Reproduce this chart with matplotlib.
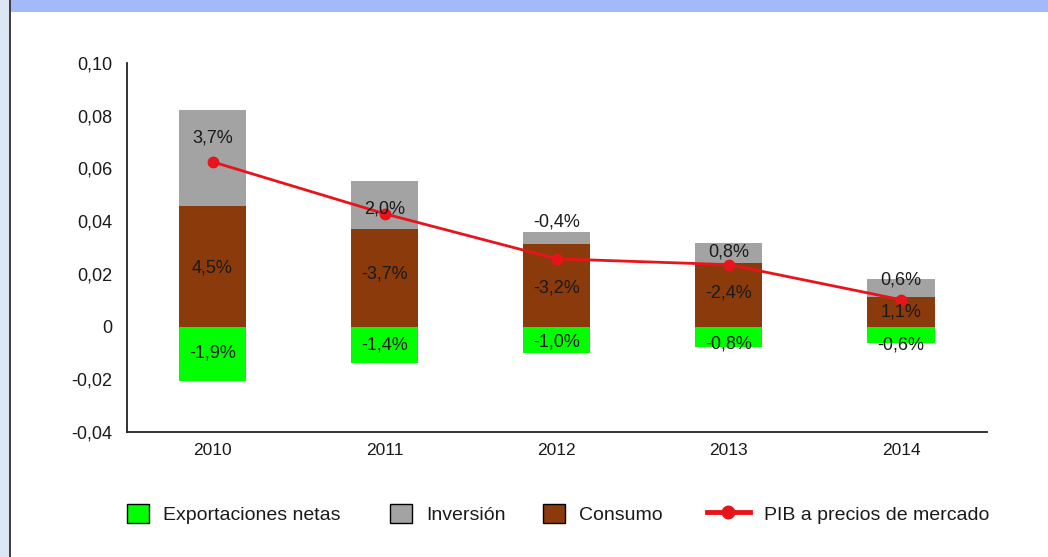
import matplotlib
matplotlib.use("Agg")
import matplotlib.pyplot as plt
from matplotlib.patches import Rectangle
from matplotlib.lines import Line2D

plt.rcParams['font.family'] = ['Liberation Sans', 'DejaVu Sans']

# ---- data ----
years = ['2010', '2011', '2012', '2013', '2014']
exportaciones = [-0.0205, -0.0139, -0.0100, -0.0076, -0.0063]
consumo = [0.0458, 0.0370, 0.0315, 0.0240, 0.0113]
inversion = [0.0363, 0.0182, 0.0042, 0.0076, 0.0066]
pib = [0.0625, 0.0428, 0.0257, 0.0235, 0.0102]

lab_exportaciones = ['-1,9%', '-1,4%', '-1,0%', '-0,8%', '-0,6%']
lab_consumo = ['4,5%', '-3,7%', '-3,2%', '-2,4%', '1,1%']
lab_inversion = ['3,7%', '2,0%', '-0,4%', '0,8%', '0,6%']

yticks = [-0.04, -0.02, 0, 0.02, 0.04, 0.06, 0.08, 0.10]
ytick_labels = ['-0,04', '-0,02', '0', '0,02', '0,04', '0,06', '0,08', '0,10']

# ---- style ----
c_green = '#00FF00'
c_gray = '#A3A3A3'
c_brown = '#8B3A0C'
c_red = '#E8141C'
txt = '#1a1a1a'

W, H = 1048, 557
fig = plt.figure(figsize=(W / 100, H / 100), dpi=100)
fig.patch.set_facecolor('white')

# frame decorations
fig.add_artist(Rectangle((0, 0), 9 / W, 1, transform=fig.transFigure,
                         facecolor='#DCE6F5', edgecolor='none', zorder=0))
fig.add_artist(Rectangle((9 / W, 0), 2 / W, 1, transform=fig.transFigure,
                         facecolor='#404040', edgecolor='none', zorder=0))
fig.add_artist(Rectangle((11 / W, 1 - 12 / H), 1, 12 / H, transform=fig.transFigure,
                         facecolor='#A3B9F9', edgecolor='none', zorder=0))

ax = fig.add_axes([126.5 / W, 1 - 432 / H, (987 - 126.5) / W, (432 - 63) / H])
x = list(range(len(years)))
bw = 0.39

b_exp = ax.bar(x, exportaciones, bw, color=c_green, label='Exportaciones netas', zorder=2)
b_con = ax.bar(x, consumo, bw, color=c_brown, label='Consumo', zorder=2)
b_inv = ax.bar(x, inversion, bw, bottom=consumo, color=c_gray, label='Inversión', zorder=2)
l_pib, = ax.plot(x, pib, color=c_red, lw=2, marker='o', markersize=7.5,
                 label='PIB a precios de mercado', zorder=4)

# data labels (offsets in pixels, positive = up)
off_inv = [20, -4, 16, 1, 8]
off_con = [-2, 4, -3, 2, 0]
off_exp = [1, 0, -2, -7, -10]
for i in x:
    segs = [
        (exportaciones[i] / 2, lab_exportaciones[i], off_exp[i]),
        (consumo[i] / 2, lab_consumo[i], off_con[i]),
        (consumo[i] + inversion[i] / 2, lab_inversion[i], off_inv[i]),
    ]
    for yc, s, off in segs:
        ax.annotate(s, (i, yc), xytext=(0, off), textcoords='offset pixels',
                    ha='center', va='center', fontsize=13, color=txt, zorder=5)

ax.set_xlim(-0.5, len(years) - 0.5)
ax.set_ylim(-0.04, 0.10)
ax.set_yticks(yticks)
ax.set_yticklabels(ytick_labels)
ax.set_xticks(x)
ax.set_xticklabels(years)
ax.tick_params(axis='both', length=0, colors=txt)
ax.tick_params(axis='y', pad=10.4, labelsize=13)
ax.tick_params(axis='x', pad=8, labelsize=12.5)
for sp in ['top', 'right']:
    ax.spines[sp].set_visible(False)
for sp in ['left', 'bottom']:
    ax.spines[sp].set_color('#222222')
    ax.spines[sp].set_linewidth(1.3)

# legend entries
leg_fs = 14
h_exp = Rectangle((0, 0), 1, 1, facecolor=c_green, edgecolor='black', lw=1)
h_inv = Rectangle((0, 0), 1, 1, facecolor=c_gray, edgecolor='black', lw=1)
h_con = Rectangle((0, 0), 1, 1, facecolor=c_brown, edgecolor='black', lw=1)
h_pib = Line2D([], [], color=c_red, lw=3.5, marker='o', markersize=9)
entries = [
    (h_exp, 'Exportaciones netas', 127, 1.13),
    (h_inv, 'Inversión', 390, 1.13),
    (h_con, 'Consumo', 543, 1.13),
    (h_pib, 'PIB a precios de mercado', 707, 2.2),
]
for h, lab, xp, hl in entries:
    fig.legend([h], [lab], loc='center left', bbox_to_anchor=(xp / W, 1 - 514 / H),
               frameon=False, fontsize=leg_fs, borderpad=0, borderaxespad=0,
               handlelength=hl, handleheight=1.13, handletextpad=0.72,
               labelcolor=txt)

fig.savefig('out.png', dpi=100, facecolor='white')
